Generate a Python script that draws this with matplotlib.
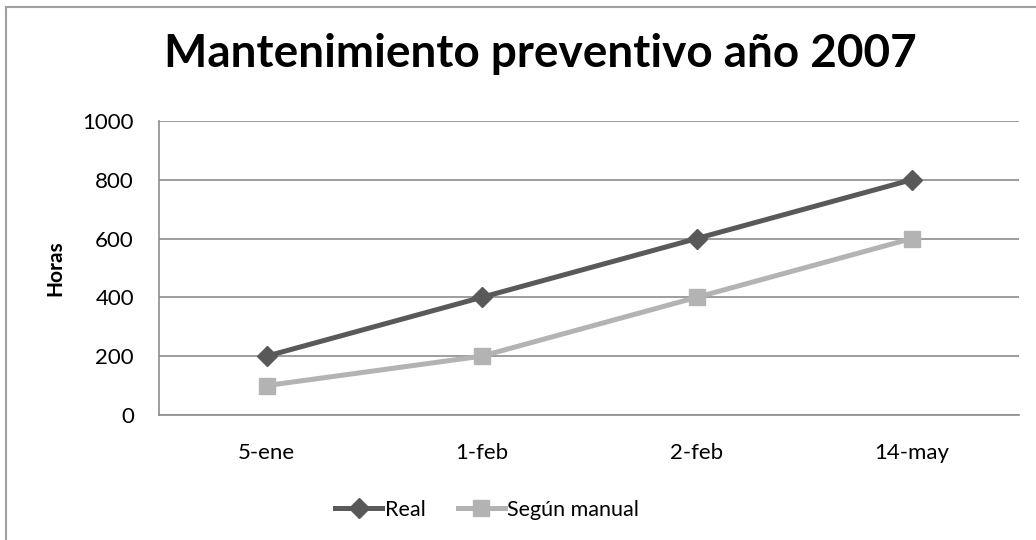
import matplotlib.pyplot as plt
from matplotlib.lines import Line2D

# datos
fechas = ['5-ene', '1-feb', '2-feb', '14-may']
real = [200, 400, 600, 800]
segun_manual = [100, 200, 400, 600]

plt.rcParams['font.family'] = ['Lato', 'DejaVu Sans']

fig = plt.figure(figsize=(10.36, 5.4), dpi=100)
ax = fig.add_axes([159/1036, 1 - 415/540, 860/1036, 294/540])

x = list(range(len(fechas)))
ax.plot(x, real, color='#595959', lw=3.6, marker='D', ms=10, label='Real')
ax.plot(x, segun_manual, color='#B3B3B3', lw=3.6, marker='s', ms=12, label='Según manual')

ax.set_xlim(-0.5, 3.5)
ax.set_ylim(0, 1000)
ax.set_yticks(range(0, 1001, 200))
ax.set_xticks(x)
ax.set_xticklabels(fechas)
ax.tick_params(axis='both', length=0, labelsize=16, colors='black')
ax.tick_params(axis='y', pad=18)
ax.tick_params(axis='x', pad=20)
ax.yaxis.grid(True, color='#8C8C8C', lw=1.2)
ax.set_axisbelow(True)
for s in ['top', 'right']:
    ax.spines[s].set_visible(False)
for s in ['left', 'bottom']:
    ax.spines[s].set_color('#8C8C8C')
    ax.spines[s].set_linewidth(1.2)

ax.set_ylabel('Horas', fontsize=15, fontweight='bold', labelpad=12)

fig.text(540/1036, 1 - 67/540, 'Mantenimiento preventivo año 2007', ha='center', va='baseline',
         fontsize=33, fontweight='bold')

leg = fig.legend(loc='center', bbox_to_anchor=(487/1036, 1 - 510/540), ncol=2, frameon=False,
                 fontsize=15.5, handlelength=2.2, columnspacing=1.5, handletextpad=0.1)

# marco exterior
fig.add_artist(Line2D([6/1036, 6/1036], [0, 1 - 7/540], color='#A0A0A0', lw=1.5))
fig.add_artist(Line2D([6/1036, 1], [1 - 7/540, 1 - 7/540], color='#A0A0A0', lw=1.5))

plt.savefig('out.png', dpi=100)
